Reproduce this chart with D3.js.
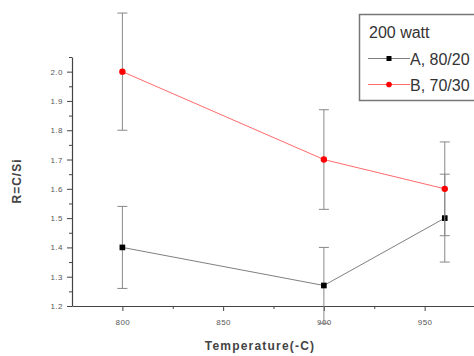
<!DOCTYPE html>
<html>
<head>
<meta charset="utf-8">
<script src="https://cdn.jsdelivr.net/npm/d3@7"></script>
<style>
  body { margin: 0; background: #fff; overflow: hidden; }
  svg { display: block; font-family: Arial, "Liberation Sans", sans-serif; }
</style>
</head>
<body>
<div id="chart"></div>
<script>
// data
const temps = [800, 900, 960];
const seriesA = [1.40, 1.27, 1.50];
const errA = [0.14, 0.13, 0.15];
const seriesB = [2.00, 1.70, 1.60];
const errB = [0.20, 0.17, 0.16];
const xTicks = [800, 850, 900, 950];
const yTicks = [1.2, 1.3, 1.4, 1.5, 1.6, 1.7, 1.8, 1.9, 2.0];
const legendTitle = '200 watt';
const seriesNames = ['A, 80/20', 'B, 70/30'];

const width = 474, height = 356;

const svg = d3.select('#chart')
    .append('svg')
    .attr('width', width)
    .attr('height', height);

const xScale = d3.scaleLinear()
    .domain([775, 975])
    .range([72, 475]);

const yScale = d3.scaleLinear()
    .domain([1.2, 2.05])
    .range([306, 57]);

const axisColor = '#444';
const labelColor = '#555';

// minor ticks first
svg.append('g')
    .attr('transform', `translate(0, ${yScale(1.2)})`)
    .call(d3.axisBottom(xScale).tickValues([825, 875, 925, 975]).tickSize(3).tickFormat(''))
    .call(g => g.select('.domain').remove())
    .selectAll('line').attr('stroke', axisColor);

svg.append('g')
    .attr('transform', `translate(${xScale(775)}, 0)`)
    .call(d3.axisLeft(yScale).tickValues(d3.range(1.25, 2.06, 0.1)).tickSize(3).tickFormat(''))
    .call(g => g.select('.domain').remove())
    .selectAll('line').attr('stroke', axisColor);

const xAxis = svg.append('g')
    .attr('transform', `translate(0, ${yScale(1.2)})`)
    .call(d3.axisBottom(xScale).tickValues(xTicks).tickSize(5).tickSizeOuter(0).tickPadding(8));

const yAxis = svg.append('g')
    .attr('transform', `translate(${xScale(775)}, 0)`)
    .call(d3.axisLeft(yScale).tickValues(yTicks).tickSize(5).tickSizeOuter(0).tickPadding(4)
        .tickFormat(d3.format('.1f')));

[xAxis, yAxis].forEach(ax => {
    ax.select('.domain').attr('stroke', axisColor).attr('stroke-width', 1.2);
    ax.selectAll('.tick line').attr('stroke', axisColor);
    ax.selectAll('.tick text')
        .attr('fill', labelColor)
        .style('font-size', '8px')
        .style('letter-spacing', '0.5px');
});

function drawSeries(values, errs, color, lineColor, marker) {
    const g = svg.append('g');

    const line = d3.line()
        .x((d, i) => xScale(temps[i]))
        .y(d => yScale(d));

    g.append('path')
        .datum(values)
        .attr('fill', 'none')
        .attr('stroke', lineColor)
        .attr('stroke-width', 1)
        .attr('d', line);

    // error bars
    const eb = g.selectAll('.err')
        .data(values)
        .enter()
        .append('g');

    eb.append('line')
        .attr('x1', (d, i) => xScale(temps[i]))
        .attr('x2', (d, i) => xScale(temps[i]))
        .attr('y1', (d, i) => yScale(d + errs[i]))
        .attr('y2', (d, i) => yScale(d - errs[i]))
        .attr('stroke', '#888')
        .attr('stroke-width', 1);

    [1, -1].forEach(s => {
        eb.append('line')
            .attr('x1', (d, i) => xScale(temps[i]) - 5)
            .attr('x2', (d, i) => xScale(temps[i]) + 5)
            .attr('y1', (d, i) => yScale(d + s * errs[i]))
            .attr('y2', (d, i) => yScale(d + s * errs[i]))
            .attr('stroke', '#888')
            .attr('stroke-width', 1);
    });

    g.selectAll('.pt')
        .data(values)
        .enter()
        .append('path')
        .attr('transform', (d, i) => `translate(${xScale(temps[i])}, ${yScale(d)})`)
        .attr('d', d3.symbol().type(marker).size(32))
        .attr('fill', color);
}

drawSeries(seriesA, errA, '#000', '#808080', d3.symbolSquare);
drawSeries(seriesB, errB, '#f00', '#ff6a6a', d3.symbolCircle);

// legend (box runs off the right edge, as in the source image)
const legend = svg.append('g');
legend.append('rect')
    .attr('x', 359.5)
    .attr('y', 14.5)
    .attr('width', 200)
    .attr('height', 86)
    .attr('fill', '#fff')
    .attr('stroke', '#777')
    .attr('stroke-width', 1.5);

legend.append('text')
    .attr('x', 369)
    .attr('y', 38)
    .attr('fill', '#333')
    .style('font-size', '16px')
    .text(legendTitle);

const legendItems = [
    { name: seriesNames[0], color: '#000', line: '#808080', marker: d3.symbolSquare, y: 58.5 },
    { name: seriesNames[1], color: '#f00', line: '#ff6a6a', marker: d3.symbolCircle, y: 84.5 }
];

legendItems.forEach(it => {
    legend.append('line')
        .attr('x1', 368).attr('x2', 410)
        .attr('y1', it.y).attr('y2', it.y)
        .attr('stroke', it.line)
        .attr('stroke-width', 1);
    legend.append('path')
        .attr('transform', `translate(389, ${it.y})`)
        .attr('d', d3.symbol().type(it.marker).size(25))
        .attr('fill', it.color);
    legend.append('text')
        .attr('x', 410)
        .attr('y', it.y + 6)
        .attr('fill', '#333')
        .style('font-size', '16px')
        .text(it.name);
});

// axis titles
svg.append('text')
    .attr('x', 260)
    .attr('y', 350)
    .attr('text-anchor', 'middle')
    .attr('fill', '#444')
    .style('font-size', '12px')
    .style('font-weight', 'bold')
    .style('letter-spacing', '1.2px')
    .text('Temperature(-C)');

svg.append('text')
    .attr('transform', 'translate(21, 181) rotate(-90)')
    .attr('text-anchor', 'middle')
    .attr('fill', '#444')
    .style('font-size', '12px')
    .style('font-weight', 'bold')
    .style('letter-spacing', '1px')
    .text('R=C/Si');
</script>
</body>
</html>
